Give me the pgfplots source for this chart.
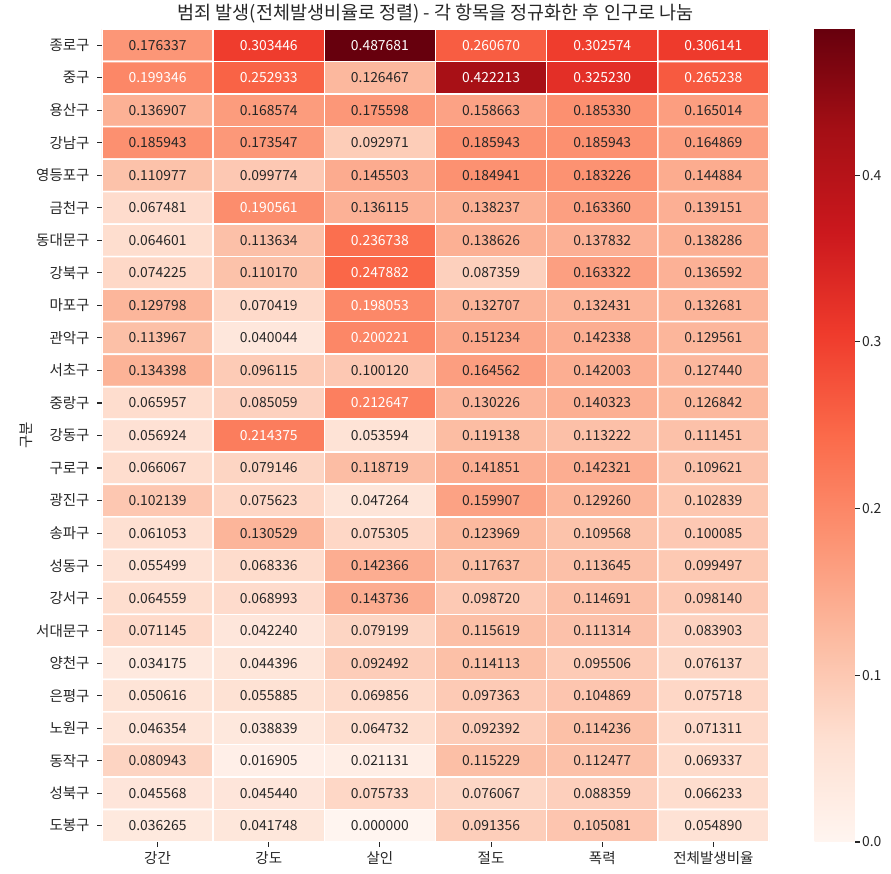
\documentclass[border=0pt]{standalone}
\usepackage{fontspec}
\setmainfont{Noto Sans CJK KR}
\usepackage{pgfplots}
\usepackage{pgfplotstable}
\pgfplotsset{compat=1.18}
\definecolor{txtgray}{HTML}{262626}
\pgfplotstableread{
x y v
0 0 0.176337
1 0 0.303446
2 0 0.487681
3 0 0.260670
4 0 0.302574
5 0 0.306141
0 1 0.199346
1 1 0.252933
2 1 0.126467
3 1 0.422213
4 1 0.325230
5 1 0.265238
0 2 0.136907
1 2 0.168574
2 2 0.175598
3 2 0.158663
4 2 0.185330
5 2 0.165014
0 3 0.185943
1 3 0.173547
2 3 0.092971
3 3 0.185943
4 3 0.185943
5 3 0.164869
0 4 0.110977
1 4 0.099774
2 4 0.145503
3 4 0.184941
4 4 0.183226
5 4 0.144884
0 5 0.067481
1 5 0.190561
2 5 0.136115
3 5 0.138237
4 5 0.163360
5 5 0.139151
0 6 0.064601
1 6 0.113634
2 6 0.236738
3 6 0.138626
4 6 0.137832
5 6 0.138286
0 7 0.074225
1 7 0.110170
2 7 0.247882
3 7 0.087359
4 7 0.163322
5 7 0.136592
0 8 0.129798
1 8 0.070419
2 8 0.198053
3 8 0.132707
4 8 0.132431
5 8 0.132681
0 9 0.113967
1 9 0.040044
2 9 0.200221
3 9 0.151234
4 9 0.142338
5 9 0.129561
0 10 0.134398
1 10 0.096115
2 10 0.100120
3 10 0.164562
4 10 0.142003
5 10 0.127440
0 11 0.065957
1 11 0.085059
2 11 0.212647
3 11 0.130226
4 11 0.140323
5 11 0.126842
0 12 0.056924
1 12 0.214375
2 12 0.053594
3 12 0.119138
4 12 0.113222
5 12 0.111451
0 13 0.066067
1 13 0.079146
2 13 0.118719
3 13 0.141851
4 13 0.142321
5 13 0.109621
0 14 0.102139
1 14 0.075623
2 14 0.047264
3 14 0.159907
4 14 0.129260
5 14 0.102839
0 15 0.061053
1 15 0.130529
2 15 0.075305
3 15 0.123969
4 15 0.109568
5 15 0.100085
0 16 0.055499
1 16 0.068336
2 16 0.142366
3 16 0.117637
4 16 0.113645
5 16 0.099497
0 17 0.064559
1 17 0.068993
2 17 0.143736
3 17 0.098720
4 17 0.114691
5 17 0.098140
0 18 0.071145
1 18 0.042240
2 18 0.079199
3 18 0.115619
4 18 0.111314
5 18 0.083903
0 19 0.034175
1 19 0.044396
2 19 0.092492
3 19 0.114113
4 19 0.095506
5 19 0.076137
0 20 0.050616
1 20 0.055885
2 20 0.069856
3 20 0.097363
4 20 0.104869
5 20 0.075718
0 21 0.046354
1 21 0.038839
2 21 0.064732
3 21 0.092392
4 21 0.114236
5 21 0.071311
0 22 0.080943
1 22 0.016905
2 22 0.021131
3 22 0.115229
4 22 0.112477
5 22 0.069337
0 23 0.045568
1 23 0.045440
2 23 0.075733
3 23 0.076067
4 23 0.088359
5 23 0.066233
0 24 0.036265
1 24 0.041748
2 24 0.000000
3 24 0.091356
4 24 0.105081
5 24 0.054890
}\heat
\begin{document}
\begin{tikzpicture}
\begin{axis}[
  scale only axis,
  width=667pt, height=813pt,
  xmin=-0.5, xmax=5.5, ymin=-0.5, ymax=24.5,
  y dir=reverse,
  axis line style={draw=none},
  xtick={0,...,5},
  xticklabels={강간,강도,살인,절도,폭력,전체발생비율},
  ytick={0,...,24},
  yticklabels={종로구,중구,용산구,강남구,영등포구,금천구,동대문구,강북구,마포구,관악구,서초구,중랑구,강동구,구로구,광진구,송파구,성동구,강서구,서대문구,양천구,은평구,노원구,동작구,성북구,도봉구},
  xtick pos=bottom, ytick pos=left,
  tick align=outside,
  major tick length=4.9pt,
  tick style={txtgray, line width=1.1pt},
  tick label style={font=\fontsize{14.5}{17}\selectfont, text=txtgray},
  yticklabel style={xshift=-4pt},
  xticklabel style={yshift=-1pt},
  ylabel={구분},
  ylabel style={font=\fontsize{14.5}{17}\selectfont, text=txtgray, yshift=-3pt},
  title={범죄 발생(전체발생비율로 정렬) - 각 항목을 정규화한 후 인구로 나눔},
  title style={font=\fontsize{18.5}{22}\selectfont, text=txtgray, yshift=-4pt},
  colormap={reds}{rgb255=(255,245,240) rgb255=(254,224,210) rgb255=(252,187,161) rgb255=(252,146,114) rgb255=(251,106,74) rgb255=(239,59,44) rgb255=(203,24,29) rgb255=(165,15,21) rgb255=(103,0,13)},
  point meta min=0, point meta max=0.487681,
  colorbar,
  colorbar/width=40pt,
  colorbar style={
    at={(parent axis.north east)}, anchor=north west, xshift=37pt,
    scale only axis,
    width=40pt, height=813pt,
    axis line style={draw=none},
    ytick={0,0.1,0.2,0.3,0.4},
    ytick pos=right, yticklabel pos=right,
    tick align=outside,
    major tick length=5pt,
    tick style={txtgray, line width=1.1pt},
    yticklabel style={font=\fontsize{13.9}{16}\selectfont, text=txtgray, xshift=-1pt,
      /pgf/number format/.cd, fixed, zerofill, precision=1, assume math mode=true},
  },
]
\addplot[matrix plot, mesh/cols=6, point meta=explicit, faceted color=white, draw=white, line width=1.6pt]
  table[x=x, y=y, meta=v] {\heat};
\addplot[draw=none, mark=none, point meta=explicit symbolic,
  nodes near coords={\pgfmathparse{\pgfplotspointmeta>0.188}\ifdim\pgfmathresult pt>0.5pt\color{white}\else\color{txtgray}\fi\pgfplotspointmeta},
  nodes near coords align={center},
  every node near coord/.append style={font=\fontsize{13.9}{16}\selectfont, inner sep=0pt}]
  table[x=x, y=y, meta=v] {\heat};
\end{axis}
\pgfresetboundingbox
\useasboundingbox (-102pt,-32pt) rectangle (789pt,842pt);
\end{tikzpicture}
\end{document}
